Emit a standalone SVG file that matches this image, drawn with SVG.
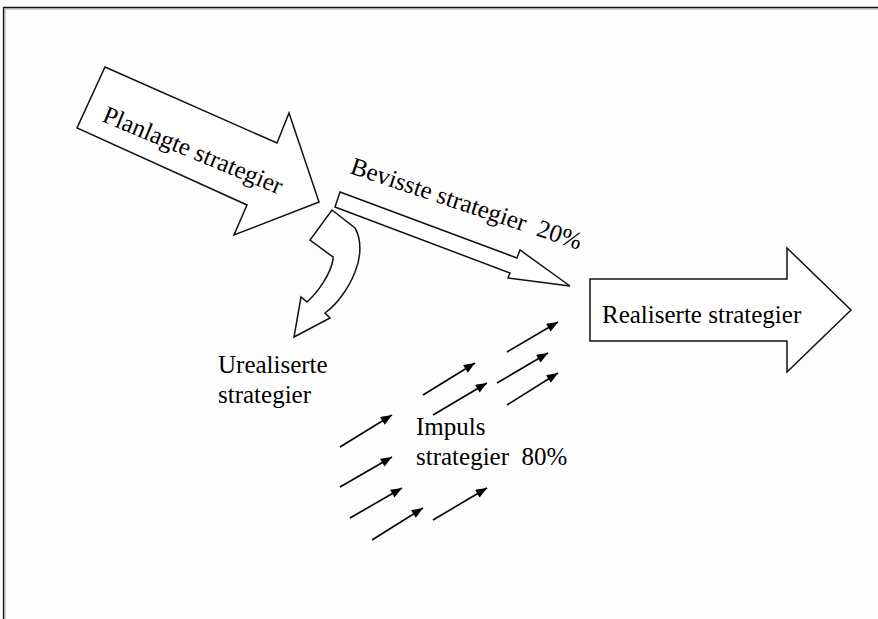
<svg xmlns="http://www.w3.org/2000/svg" width="878" height="619" viewBox="0 0 878 619">
  <defs>
    <marker id="tip" viewBox="0 0 10 8" refX="10" refY="4" markerUnits="userSpaceOnUse" markerWidth="12" markerHeight="9" orient="auto">
      <path d="M0,0 L10,4 L0,8 Z" fill="#000"/>
    </marker>
    <style>
      .block { fill: #fff; stroke: #111; stroke-width: 1.5; stroke-linejoin: miter; }
      .label { font-family: "Liberation Serif", "Times New Roman", serif; font-size: 25px; fill: #000; }
      .impulse { stroke: #000; stroke-width: 1.6; fill: none; marker-end: url(#tip); }
    </style>
  </defs>

  <!-- page -->
  <rect x="0" y="0" width="878" height="619" fill="#fdfdfd"/>
  <path d="M3.5,619 V7.5 H878" fill="none" stroke="#111" stroke-width="1.3"/>
  <path d="M5,619 V9 H878" fill="none" stroke="#999" stroke-width="1"/>

  <!-- planned strategies -->
  <g id="planlagte">
    <path class="block" d="M105,67 L277,143 L289,113 L319,202 L234,235 L247,205 L77,128 Z"/>
    <text class="label" transform="translate(101,121) rotate(22.5)">Planlagte strategier</text>
  </g>

  <!-- deliberate strategies -->
  <g id="bevisste">
    <path class="block" d="M340,192 L517,258 L520,250 L570,286 L508,278 L510,273 L335,207 Z"/>
    <text class="label" xml:space="preserve" transform="translate(349,173) rotate(18.5)">Bevisste strategier  20%</text>
  </g>

  <!-- unrealised strategies -->
  <g id="urealiserte">
    <path class="block" d="M332,210 L355,228 C362,240 361,258 355,272 C348,290 336,305 325,313 L330,318 L294,337 L301,297 L307,302 C318,292 330,275 333,260 L333,257 L310,240 Z"/>
    <text class="label" x="218" y="373">Urealiserte</text>
    <text class="label" x="218" y="403">strategier</text>
  </g>

  <!-- realised strategies -->
  <g id="realiserte">
    <path class="block" stroke="#333" stroke-width="2" d="M590,279 L787,279 L787,248 L851,310 L787,372 L787,341 L590,341 Z"/>
    <text class="label" x="602" y="323" font-size="26">Realiserte strategier</text>
  </g>

  <!-- emergent strategies -->
  <g id="impuls">
    <text class="label" x="416" y="435">Impuls</text>
    <text class="label" xml:space="preserve" x="416" y="465">strategier  80%</text>
  </g>

  <!-- emergent impulses -->
  <g id="connectors">
    <line class="impulse" x1="507" y1="352" x2="558" y2="322"/>
    <line class="impulse" x1="497" y1="383" x2="548" y2="353"/>
    <line class="impulse" x1="507" y1="405" x2="558" y2="373"/>
    <line class="impulse" x1="423" y1="395" x2="475" y2="363"/>
    <line class="impulse" x1="433" y1="415" x2="487" y2="383"/>
    <line class="impulse" x1="340" y1="447" x2="392" y2="415"/>
    <line class="impulse" x1="340" y1="487" x2="392" y2="457"/>
    <line class="impulse" x1="350" y1="518" x2="402" y2="488"/>
    <line class="impulse" x1="372" y1="540" x2="423" y2="508"/>
    <line class="impulse" x1="433" y1="520" x2="487" y2="488"/>
  </g>
</svg>
